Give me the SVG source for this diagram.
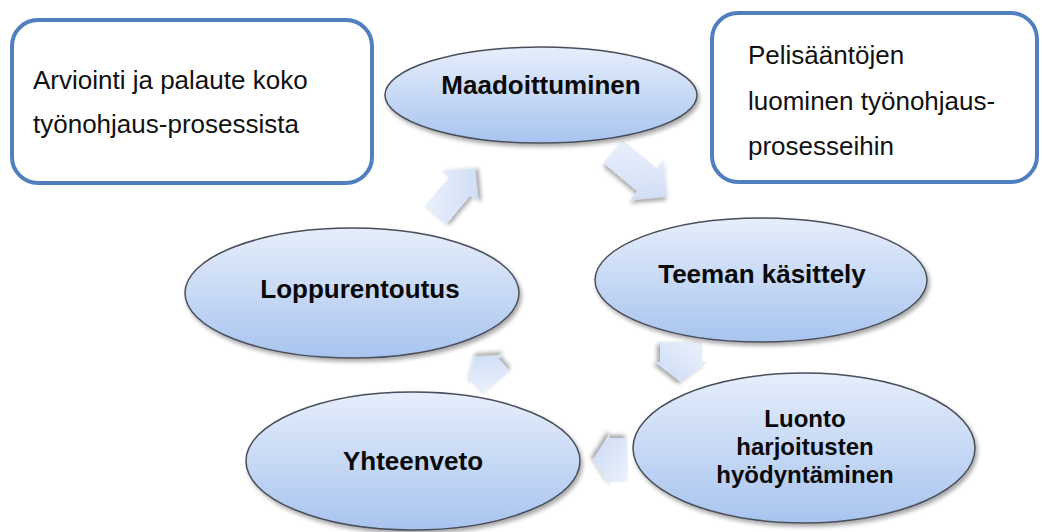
<svg xmlns="http://www.w3.org/2000/svg" width="1042" height="532" viewBox="0 0 1042 532">
<defs>
<linearGradient id="eg" x1="0" y1="0" x2="0" y2="1">
<stop offset="0" stop-color="#e6eefb"/>
<stop offset="1" stop-color="#a8c4ef"/>
</linearGradient>
<linearGradient id="ag" x1="0" y1="0" x2="1" y2="1">
<stop offset="0" stop-color="#eef3fc"/>
<stop offset="1" stop-color="#c9d9f4"/>
</linearGradient>
<filter id="sh" x="-10%" y="-10%" width="125%" height="130%">
<feGaussianBlur in="SourceAlpha" stdDeviation="2"/>
<feOffset dx="2" dy="3" result="b"/>
<feComponentTransfer><feFuncA type="linear" slope="0.35"/></feComponentTransfer>
<feMerge><feMergeNode/><feMergeNode in="SourceGraphic"/></feMerge>
</filter>
</defs>
<style>
.box{fill:#fff;stroke:#4f7fbf;stroke-width:4}
.ell{fill:url(#eg);stroke:#4a4f5a;stroke-width:1.5;filter:url(#sh)}
.arr{fill:url(#ag);stroke:none;filter:url(#sh)}
.t{font-family:"Liberation Sans",Arial,sans-serif;font-size:26px;fill:#111}
.b{font-family:"Liberation Sans",Arial,sans-serif;font-size:26px;font-weight:bold;fill:#0a0a0a;text-anchor:middle}
.s{font-size:24px}
</style>
<rect width="1042" height="532" fill="#fff"/>
<g id="box-arviointi">
<rect class="box" x="12" y="20" width="360" height="163" rx="26"/>
<text class="t" x="33" y="89">Arviointi ja palaute koko</text>
<text class="t" x="33" y="133">työnohjaus-prosessista</text>
</g>
<g id="box-pelisaannot">
<rect class="box" x="712" y="13" width="325" height="169" rx="26"/>
<text class="t" x="748" y="64">Pelisääntöjen</text>
<text class="t" x="748" y="110">luominen työnohjaus-</text>
<text class="t" x="748" y="155">prosesseihin</text>
</g>
<g id="connectors">
<polygon class="arr" transform="translate(640,174) rotate(40)" points="-35,-15 9,-15 9,-26 35,0 9,26 9,15 -35,15"/>
<polygon class="arr" transform="translate(681,362) rotate(90)" points="-20,-21 0,-21 0,-26 20,0 0,26 0,21 -20,21"/>
<polygon class="arr" transform="translate(610,460) rotate(180)" points="-17,-22 0,-22 0,-27 17,0 0,27 0,22 -17,22"/>
<polygon class="arr" transform="translate(485,370) rotate(-130)" points="-17,-18 0,-18 0,-23 17,0 0,23 0,18 -17,18"/>
<polygon class="arr" transform="translate(455,192) rotate(-50)" points="-31,-14 7,-14 7,-24 31,0 7,24 7,14 -31,14"/>
</g>
<g id="node-maadoittuminen">
<ellipse class="ell" cx="541" cy="95" rx="156" ry="48"/>
<text class="b" x="541" y="94">Maadoittuminen</text>
</g>
<g id="node-teeman">
<ellipse class="ell" cx="761" cy="280" rx="166" ry="62"/>
<text class="b" x="762" y="283">Teeman käsittely</text>
</g>
<g id="node-luonto">
<ellipse class="ell" cx="804" cy="448" rx="171" ry="75"/>
<text class="b s" x="805" y="427">Luonto</text>
<text class="b s" x="805" y="455">harjoitusten</text>
<text class="b s" x="805" y="483">hyödyntäminen</text>
</g>
<g id="node-yhteenveto">
<ellipse class="ell" cx="413" cy="461" rx="167" ry="69"/>
<text class="b" x="413" y="470">Yhteenveto</text>
</g>
<g id="node-loppurentoutus">
<ellipse class="ell" cx="352" cy="293" rx="167" ry="65"/>
<text class="b" x="360" y="298">Loppurentoutus</text>
</g>
</svg>
